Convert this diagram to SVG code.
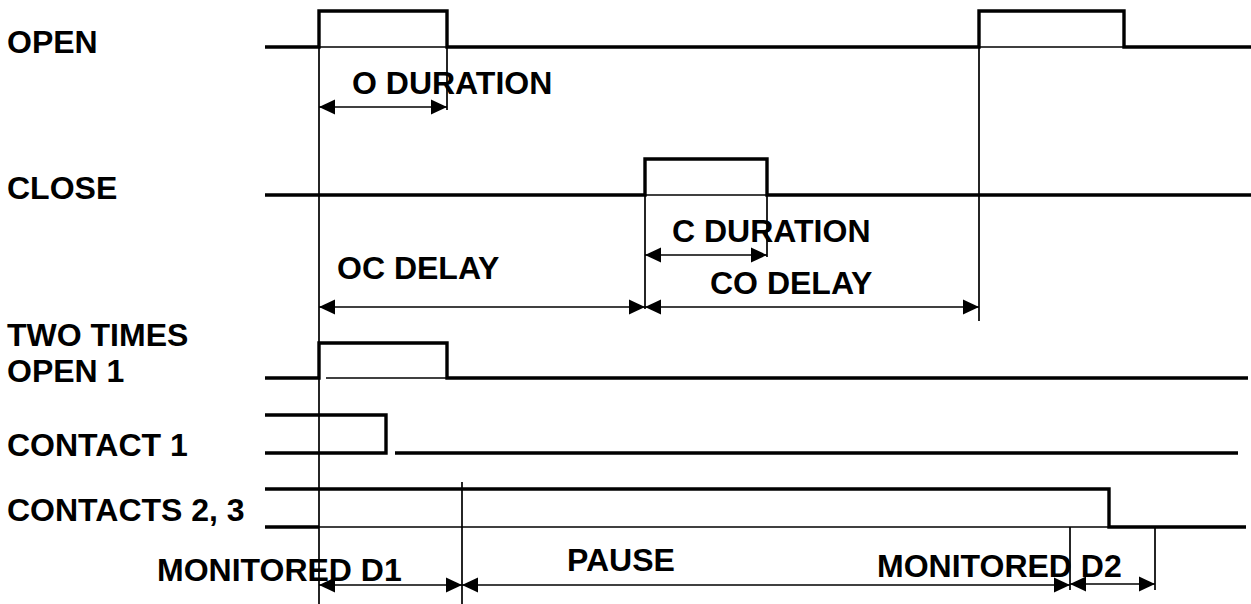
<svg xmlns="http://www.w3.org/2000/svg" width="1251" height="604" viewBox="0 0 1251 604">
<style>
text{font-family:"Liberation Sans",Arial,sans-serif;font-weight:bold;font-size:32px;fill:#000}
.sig{fill:none;stroke:#000;stroke-width:3.4;stroke-linejoin:miter;stroke-linecap:butt}
.thin{fill:none;stroke:#000;stroke-width:1.7}
.dim{fill:none;stroke:#000;stroke-width:1.7;marker-start:url(#ah);marker-end:url(#ah)}
</style>
<defs>
<marker id="ah" markerUnits="userSpaceOnUse" markerWidth="17" markerHeight="16" refX="16" refY="7.5" orient="auto-start-reverse" viewBox="0 0 17 15">
<path d="M0,0 L16,7.5 L0,15 Z" fill="#000"/>
</marker>
</defs>
<g id="labels">
<text x="7" y="53">OPEN</text>
<text x="7" y="199">CLOSE</text>
<text x="7" y="346">TWO TIMES</text>
<text x="7" y="382">OPEN 1</text>
<text x="7" y="456">CONTACT 1</text>
<text x="7" y="521">CONTACTS 2, 3</text>
</g>
<g id="open-signal">
<path class="sig" d="M265,47 H319 V11 H447 V47 H979 V11 H1124 V47 H1251"/>
<path class="thin" d="M319,47 H447 M979,47 H1124"/>
</g>
<g id="close-signal">
<path class="sig" d="M265,195 H645 V159 H767 V195 H1251"/>
<path class="thin" d="M645,195 H767"/>
</g>
<g id="two-times-open-signal">
<path class="sig" d="M265,378 H319 V343 H447 V378 H1248"/>
<path class="thin" d="M326,378 H447"/>
</g>
<g id="contact1-signal">
<path class="sig" d="M265,415 H386 V453 H265 M395,453 H1238"/>
</g>
<g id="contacts23-signal">
<path class="sig" d="M265,489 H1109 V527 H1246 M265,527 H319"/>
<path class="thin" d="M319,527 H1109"/>
</g>
<g id="connectors">
<path class="thin" d="M319,11 V604 M447,47 V110 M645,159 V309 M767,195 V257 M979,11 V321 M462,482 V604 M1070,527 V590 M1155,527 V590"/>
<path class="dim" d="M319,107 H447"/>
<path class="dim" d="M645,255 H767"/>
<path class="dim" d="M319,307 H645"/>
<path class="dim" d="M645,307 H979"/>
<path class="dim" d="M319,585 H462"/>
<path class="dim" d="M462,585 H1070"/>
<path class="dim" d="M1070,584 H1155"/>
</g>
<g id="dimension-labels">
<text x="352" y="94">O DURATION</text>
<text x="672" y="242">C DURATION</text>
<text x="337" y="279">OC DELAY</text>
<text x="710" y="294">CO DELAY</text>
<text x="157" y="581">MONITORED D1</text>
<text x="567" y="571">PAUSE</text>
<text x="877" y="577">MONITORED D2</text>
</g>
</svg>
